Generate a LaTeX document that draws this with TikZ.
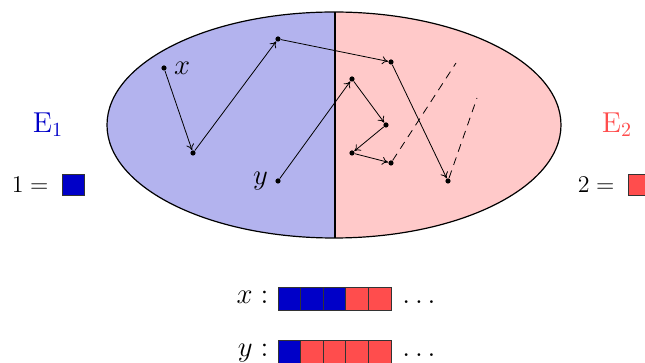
\documentclass[tikz,border=0pt]{standalone}
\usepackage{tikz}
\usetikzlibrary{arrows.meta,positioning}
\definecolor{paleblue}{HTML}{B3B3EE}
\definecolor{palered}{HTML}{FFC9C9}
\definecolor{deepblue}{HTML}{0000C8}
\definecolor{brightred}{HTML}{FF4D4D}

\begin{document}
\begin{tikzpicture}[
  x=0.5pt, y=-0.5pt,
  font=\large,
  dot/.style={circle, fill=black, inner sep=0pt, minimum size=2.6pt},
  walk/.style={-{To[length=3pt,width=4pt]}, thin},
  jump/.style={thin, dashed, dash pattern=on 4pt off 3pt},
  cell/.style={draw=black!80, minimum width=11.3pt, minimum height=11.5pt, inner sep=0pt},
  legbox/.style={draw=black!80, minimum width=11pt, minimum height=10.5pt, inner sep=0pt},
  seqtext/.style={font=\Large, text height=1.6ex, text depth=0.4ex}
]
  \useasboundingbox (0,0) rectangle (645,363);

  % the two halves of the space
  \begin{scope}
    \clip (0,0) rectangle (335,363);
    \fill[paleblue] (334,125) ellipse [x radius=227, y radius=113];
  \end{scope}
  \begin{scope}
    \clip (335,0) rectangle (645,363);
    \fill[palered] (334,125) ellipse [x radius=227, y radius=113];
  \end{scope}
  \draw[semithick] (334,125) ellipse [x radius=227, y radius=113];
  \coordinate (top) at (335,12);
  \coordinate (bot) at (335,238);
  \draw[semithick] (top) -- (bot);

  % path of x
  \node[dot] (x0) at (164,68) {};
  \node[dot] (xa) at (193,153) {};
  \node[dot] (xb) at (278,39) {};
  \node[dot] (xc) at (391,62) {};
  \node[dot] (xd) at (448,181) {};
  \node[right=0pt of x0, font=\Large] (xlab) {$x$};

  % path of y
  \node[dot] (y0) at (278,181) {};
  \node[dot] (ya) at (352,79) {};
  \node[dot] (yb) at (386,125) {};
  \node[dot] (yc) at (352,153) {};
  \node[dot] (yd) at (391,163) {};
  \node[left=0pt of y0, font=\Large] (ylab) {$y$};

  \draw[walk] (x0) -- (xa);
  \draw[walk] (xa) -- (xb);
  \draw[walk] (xb) -- (xc);
  \draw[walk] (xc) -- (xd);
  \draw[walk] (y0) -- (ya);
  \draw[walk] (ya) -- (yb);
  \draw[walk] (yb) -- (yc);
  \draw[walk] (yc) -- (yd);

  \coordinate (xend) at (477,98);
  \coordinate (yend) at (456,63);
  \draw[jump] (xd) -- (xend);
  \draw[jump] (yd) -- (yend);

  % legend
  \node[text=deepblue, font=\Large] (E1) at (48,125) {$\mathrm{E}_1$};
  \node[text=brightred, font=\Large] (E2) at (617,125) {$\mathrm{E}_2$};
  \node[legbox, fill=deepblue] (one) at (73,185) {};
  \node[left=3pt of one] (onelab) {$1=$};
  \node[legbox, fill=brightred] (two) at (639,185) {};
  \node[left=3pt of two] (twolab) {$2=$};

  % colour sequences
  \foreach \c [count=\i] in {deepblue,deepblue,deepblue,brightred,brightred}
    \node[cell, fill=\c] (xs\i) at ({278+22.6*(\i-0.5)},298.5) {};
  \foreach \c [count=\i] in {deepblue,brightred,brightred,brightred,brightred}
    \node[cell, fill=\c] (ys\i) at ({278+22.6*(\i-0.5)},351.5) {};
  \node[seqtext, left=1pt of xs1] (xseq) {$x:$};
  \node[seqtext, left=1pt of ys1] (yseq) {$y:$};
  \node[seqtext, right=2pt of xs5] (xdots) {$\ldots$};
  \node[seqtext, right=2pt of ys5] (ydots) {$\ldots$};
\end{tikzpicture}
\end{document}
